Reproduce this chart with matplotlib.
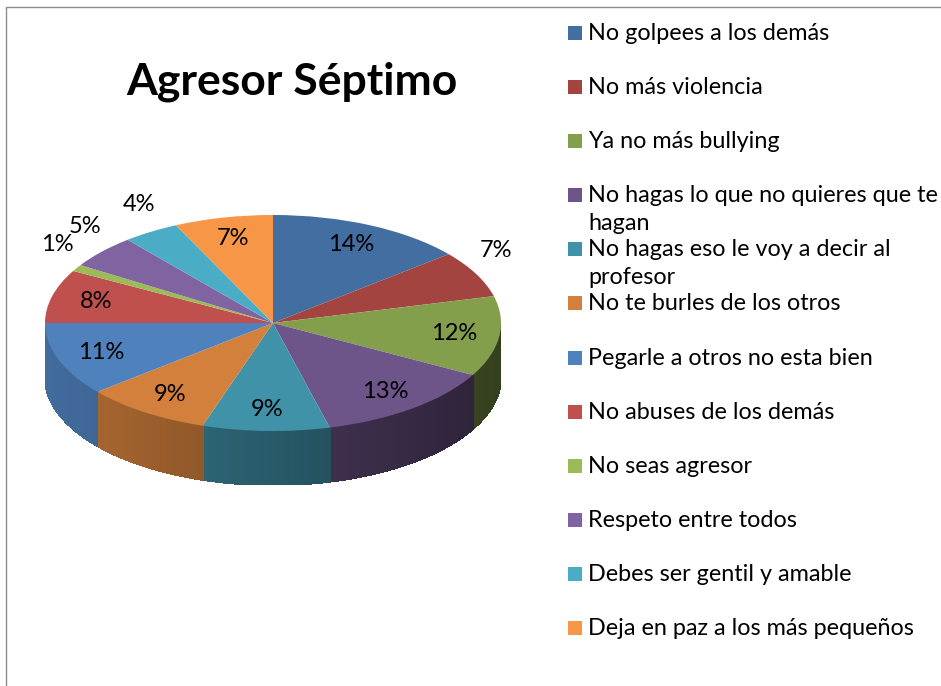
import numpy as np
import matplotlib.pyplot as plt
import matplotlib.colors as mcolors
from matplotlib.patches import Polygon, Rectangle
from matplotlib.lines import Line2D

plt.rcParams['font.family'] = ['Lato', 'DejaVu Sans']

title = 'Agresor Séptimo'
labels = ['No golpees a los demás', 'No más violencia', 'Ya no más bullying',
          'No hagas lo que no quieres que te\nhagan',
          'No hagas eso le voy a decir al\nprofesor',
          'No te burles de los otros', 'Pegarle a otros no esta bien',
          'No abuses de los demás', 'No seas agresor', 'Respeto entre todos',
          'Debes ser gentil y amable', 'Deja en paz a los más pequeños']
values = [14, 7, 12, 13, 9, 9, 11, 8, 1, 5, 4, 7]
colors = ['#436ea1', '#a34441', '#849f4c', '#6d558a', '#4092a8', '#d2803c',
          '#4f81bd', '#c0504d', '#9bbb59', '#8064a2', '#4bacc6', '#f79646']
# label placed outside the slice (excel "best fit")
outside = [False, True, False, False, False, False,
           False, False, True, True, True, False]

W, H = 941, 686
fig = plt.figure(figsize=(W / 100, H / 100), dpi=100)

def fx(x):
    return x / W

def fy(y):
    return 1 - y / H

# chart area border (only top/left visible)
fig.add_artist(Line2D([fx(6), fx(6), 1], [0, fy(7), fy(7)], color='#8c8c8c', lw=1))

fig.text(fx(292), fy(95), title, ha='center', va='baseline',
         fontsize=32, fontweight='bold')

# 3d-looking pie: flattened pie + side wall
cx, cy, rx, ry, depth = 273, 323, 228, 108, 54
ax = fig.add_axes([fx(cx - rx), fy(cy + ry + depth), 2 * rx / W, (2 * ry + depth) / H])
wedges, _ = ax.pie(values, colors=colors, startangle=90, counterclock=False,
                   radius=1, wedgeprops=dict(linewidth=0))
ax.set_aspect('auto')
d = depth / ry
ax.set_xlim(-1, 1)
ax.set_ylim(-1 - d, 1)
ax.axis('off')

for w, c in zip(wedges, colors):
    w.set_zorder(3)
    base = np.array(mcolors.to_rgb(c))
    for k in (-2, -1, 0, 1):
        lo = max(w.theta1, 180 + 360 * k)
        hi = min(w.theta2, 360 + 360 * k)
        if lo >= hi:
            continue
        ts = np.radians(np.linspace(lo, hi, int(hi - lo) + 2))
        for a, b in zip(ts[:-1], ts[1:]):
            f = 0.62 - 0.22 * np.cos((a + b) / 2)
            col = np.clip(base * f, 0, 1)
            pts = [(np.cos(a), np.sin(a)), (np.cos(b), np.sin(b)),
                   (np.cos(b), np.sin(b) - d), (np.cos(a), np.sin(a) - d)]
            ax.add_patch(Polygon(pts, closed=True, facecolor=col, edgecolor=col,
                                 lw=0.8, antialiased=False, zorder=1))

for w, v, out in zip(wedges, values, outside):
    t = np.radians((w.theta1 + w.theta2) / 2)
    if out:
        px, py = 1.1 * np.cos(t), 1.1 * np.sin(t) + 0.17
    else:
        px, py = 0.8 * np.cos(t), 0.8 * np.sin(t)
    ax.text(px, py, f'{v}%', ha='center', va='center', fontsize=17, zorder=5)

# legend
for i, (lab, c) in enumerate(zip(labels, colors)):
    y = 33 + i * 54.1
    fig.add_artist(Rectangle((fx(568), fy(y + 7)), 14 / W, 14 / H,
                             facecolor=c, edgecolor='none'))
    for j, line in enumerate(lab.split('\n')):
        fig.text(fx(588), fy(y + 7 + j * 28), line, ha='left', va='baseline',
                 fontsize=16.8)

fig.savefig('out.png', dpi=100)
